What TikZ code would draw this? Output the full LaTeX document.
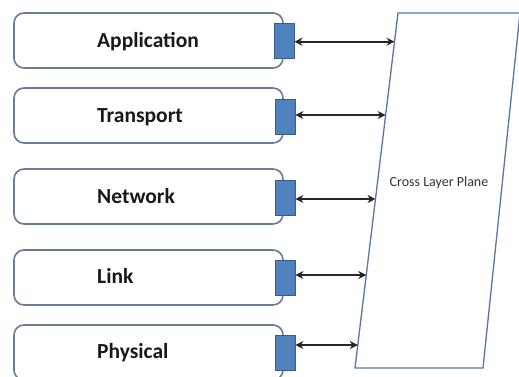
\documentclass[tikz,border=0pt]{standalone}
\usepackage{fontspec}
\setmainfont{Carlito}
\usetikzlibrary{arrows.meta,calc}
\definecolor{boxline}{RGB}{104,124,152}
\definecolor{sqfill}{RGB}{79,129,189}
\definecolor{sqline}{RGB}{56,93,138}
\definecolor{planeline}{RGB}{88,118,160}
\tikzset{
  layerbox/.style={draw=boxline, line width=1.6pt, rounded corners=10pt, fill=white,
    minimum width=269pt, minimum height=55pt, inner sep=0pt},
  layerlabel/.style={anchor=mid west, font=\fontsize{21.5}{25}\selectfont\bfseries, inner sep=0pt, text=black!90},
  sap/.style={draw=sqline, line width=0.8pt, fill=sqfill, minimum width=20pt, minimum height=35pt, inner sep=0pt},
  link/.style={black!85, line width=1.8pt, {Stealth[length=8pt,width=8pt]}-{Stealth[length=8pt,width=8pt]}},
  planeedge/.style={draw=planeline, line width=1.3pt, line join=miter},
}
\begin{document}
\begin{tikzpicture}[x=1pt,y=-1pt]
\useasboundingbox (0,0) rectangle (519,377);
\clip (0,0) rectangle (519,377);
\fill[white] (0,0) rectangle (519,377);

% layer boxes
\node[layerbox] (app) at (148.5,40.5) {};
\node[layerbox] (tra) at (148.5,115.5) {};
\node[layerbox] (net) at (148.5,196.5) {};
\node[layerbox] (lnk) at (148.5,277.5) {};
\node[layerbox] (phy) at (148.5,352.5) {};

\node[layerlabel] (tapp) at (97,45) {Application};
\node[layerlabel] (ttra) at (97,120.5) {Transport};
\node[layerlabel] (tnet) at (97,201) {Network};
\node[layerlabel] (tlnk) at (97,281.5) {Link};
\node[layerlabel] (tphy) at (97,356.5) {Physical};

% service access points
\node[sap] (s1) at (284,41) {};
\node[sap] (s2) at (285,117) {};
\node[sap] (s3) at (285,197.5) {};
\node[sap] (s4) at (285,277.5) {};
\node[sap] (s5) at (285,352.5) {};

% cross layer plane
\coordinate (ptl) at (398,13);
\coordinate (ptr) at (520,13);
\coordinate (pbr) at (483,368);
\coordinate (pbl) at (355,368);
\draw[planeedge, fill=white] (ptl) -- (ptr) -- (pbr) -- (pbl) -- cycle;
\node[font=\fontsize{14}{17}\selectfont, text=black!80] (plane) at (439,183) {Cross Layer Plane};

% edge points
\coordinate (e1) at ($(ptl)!{(41.7-13)/355}!(pbl)$);
\coordinate (e2) at ($(ptl)!{(115-13)/355}!(pbl)$);
\coordinate (e3) at ($(ptl)!{(199-13)/355}!(pbl)$);
\coordinate (e4) at ($(ptl)!{(275-13)/355}!(pbl)$);
\coordinate (e5) at ($(ptl)!{(345-13)/355}!(pbl)$);

\draw[link] (s1.east |- e1) -- (e1);
\draw[link] (s2.east |- e2) -- (e2);
\draw[link] (s3.east |- e3) -- (e3);
\draw[link] (s4.east |- e4) -- (e4);
\draw[link] (s5.east |- e5) -- (e5);
\end{tikzpicture}
\end{document}
